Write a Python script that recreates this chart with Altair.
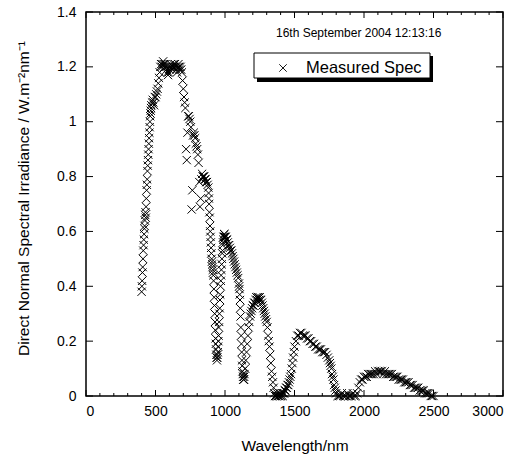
import altair as alt
import pandas as pd

# ---------------- data ----------------
wl_1 = [400, 402, 404, 406, 408, 410, 412, 414, 416, 418, 420, 422, 424, 426, 428, 430, 432, 434,
        436, 438, 440, 442, 444, 446, 448, 450, 452, 454, 456, 458, 460, 462, 464, 466, 468, 470]
val_1 = [0.38, 0.40, 0.42, 0.45, 0.47, 0.50, 0.53, 0.55, 0.57, 0.59, 0.61, 0.62, 0.64, 0.66, 0.67, 0.65, 0.69, 0.72,
         0.75, 0.77, 0.79, 0.82, 0.84, 0.86, 0.88, 0.90, 0.92, 0.94, 0.96, 0.98, 1.00, 1.02, 1.03, 1.04, 1.05, 1.06]

wl_2 = [475, 480, 485, 490, 495, 500, 505, 510, 515, 520, 525, 530, 535, 540, 545, 550, 555, 560, 565, 570,
        575, 580, 585, 590, 595, 600, 605, 610, 615, 620, 625, 630, 635, 640, 645, 650, 655, 660, 665, 670,
        675, 680, 685, 690, 695, 700, 705, 710, 715, 720, 725, 730, 735, 740, 745, 750, 755, 760, 765, 770,
        775, 780, 785, 790, 795, 800, 805, 810, 815, 820, 825, 830, 835, 840, 845, 850, 855, 860, 865, 870,
        875, 880]
val_2 = [1.07, 1.08, 1.07, 1.06, 1.09, 1.09, 1.10, 1.11, 1.12, 1.14, 1.16, 1.18, 1.20, 1.21, 1.20, 1.21, 1.22, 1.21, 1.20, 1.21,
         1.20, 1.19, 1.18, 1.17, 1.18, 1.19, 1.20, 1.21, 1.20, 1.19, 1.20, 1.21, 1.20, 1.21, 1.20, 1.19, 1.18, 1.20, 1.21, 1.20,
         1.19, 1.20, 1.19, 1.18, 1.15, 1.12, 1.09, 1.07, 1.05, 0.90, 0.86, 0.96, 1.02, 1.02, 1.01, 1.00, 0.98, 0.68, 0.75, 0.95,
         0.96, 0.95, 0.94, 0.92, 0.91, 0.90, 0.88, 0.85, 0.78, 0.69, 0.72, 0.79, 0.81, 0.80, 0.80, 0.80, 0.79, 0.79, 0.78, 0.78,
         0.77, 0.76]

wl_3 = [882, 884, 886, 888, 890, 892, 894, 896, 898, 900, 902, 904, 906, 908, 910, 912, 914, 916, 918, 920,
        922, 924, 926, 928, 930, 932, 934, 936, 938, 940, 942, 944, 946, 948, 950, 952, 954, 956, 958, 960,
        962, 964, 966, 968, 970, 972, 974, 976, 978, 980, 982, 984, 986, 988, 990, 992, 994, 996, 998, 1000]
val_3 = [0.74, 0.72, 0.70, 0.67, 0.65, 0.62, 0.60, 0.58, 0.56, 0.54, 0.52, 0.50, 0.49, 0.48, 0.47, 0.46, 0.45, 0.44, 0.42, 0.39,
         0.36, 0.33, 0.30, 0.27, 0.24, 0.21, 0.19, 0.17, 0.15, 0.14, 0.13, 0.14, 0.15, 0.16, 0.18, 0.20, 0.22, 0.25, 0.27, 0.30,
         0.32, 0.35, 0.37, 0.40, 0.42, 0.44, 0.46, 0.48, 0.50, 0.52, 0.53, 0.55, 0.56, 0.57, 0.58, 0.58, 0.59, 0.59, 0.58, 0.58]

wl_4 = [1005, 1010, 1015, 1020, 1025, 1030, 1035, 1040, 1045, 1050, 1055, 1060, 1065, 1070, 1075, 1080, 1085, 1090, 1095, 1100]
val_4 = [0.58, 0.57, 0.57, 0.56, 0.55, 0.55, 0.54, 0.53, 0.53, 0.52, 0.51, 0.50, 0.49, 0.48, 0.47, 0.46, 0.45, 0.44, 0.43, 0.41]

wl_5 = [1102, 1104, 1106, 1108, 1110, 1112, 1114, 1116, 1118, 1120, 1122, 1124, 1126, 1128, 1130, 1132, 1134, 1136, 1138, 1140]
val_5 = [0.40, 0.39, 0.37, 0.35, 0.32, 0.29, 0.25, 0.22, 0.19, 0.16, 0.13, 0.11, 0.09, 0.08, 0.07, 0.06, 0.06, 0.06, 0.07, 0.08]

wl_6 = [1145, 1150, 1155, 1160, 1165, 1170, 1175, 1180, 1185, 1190, 1195, 1200, 1205, 1210, 1215, 1220, 1225, 1230, 1235, 1240,
        1245, 1250, 1255, 1260, 1265, 1270, 1275, 1280, 1285, 1290, 1295, 1300, 1305, 1310, 1315, 1320, 1325, 1330, 1335, 1340,
        1345, 1350, 1355, 1360, 1365, 1370, 1375, 1380, 1385, 1390, 1395, 1400, 1405, 1410, 1415, 1420, 1425, 1430, 1435, 1440,
        1445, 1450, 1455, 1460, 1465, 1470, 1475, 1480, 1485, 1490, 1495, 1500]
val_6 = [0.10, 0.13, 0.16, 0.19, 0.22, 0.25, 0.27, 0.29, 0.30, 0.31, 0.32, 0.33, 0.33, 0.34, 0.34, 0.35, 0.36, 0.35, 0.36, 0.36,
         0.35, 0.36, 0.35, 0.35, 0.34, 0.33, 0.32, 0.31, 0.30, 0.29, 0.28, 0.27, 0.25, 0.22, 0.20, 0.18, 0.15, 0.12, 0.09, 0.07,
         0.05, 0.03, 0.01, 0.00, 0.00, 0.00, 0.01, 0.00, 0.00, 0.00, 0.01, 0.00, 0.00, 0.01, 0.00, 0.01, 0.01, 0.02, 0.02, 0.03,
         0.03, 0.04, 0.04, 0.05, 0.06, 0.07, 0.08, 0.10, 0.12, 0.14, 0.16, 0.18]

wl_7 = [1510, 1520, 1530, 1540, 1550, 1560, 1570, 1580, 1590, 1600, 1610, 1620, 1630, 1640, 1650, 1660, 1670, 1680, 1690, 1700,
        1710, 1720, 1730, 1740, 1750]
val_7 = [0.20, 0.22, 0.22, 0.23, 0.23, 0.22, 0.22, 0.22, 0.21, 0.21, 0.20, 0.20, 0.19, 0.19, 0.18, 0.18, 0.17, 0.17, 0.17, 0.16,
         0.16, 0.16, 0.15, 0.14, 0.13]

wl_8 = [1755, 1760, 1765, 1770, 1775, 1780, 1785, 1790, 1795, 1800]
val_8 = [0.12, 0.11, 0.10, 0.08, 0.07, 0.06, 0.04, 0.03, 0.02, 0.01]

wl_9 = [1810, 1820, 1830, 1840, 1850, 1860, 1870, 1880, 1890, 1900, 1910, 1920, 1930, 1940, 1950, 1960, 1970, 1980, 1990, 2000,
        2010, 2020, 2030, 2040, 2050, 2060, 2070, 2080, 2090, 2100, 2110, 2120, 2130, 2140, 2150, 2160, 2170, 2180, 2190, 2200,
        2210, 2220, 2230, 2240, 2250, 2260, 2270, 2280, 2290, 2300, 2310, 2320, 2330, 2340, 2350, 2360, 2370, 2380, 2390, 2400,
        2410, 2420, 2430, 2440, 2450, 2460, 2470, 2480, 2490, 2500]
val_9 = [0.00, 0.00, 0.00, 0.01, 0.00, 0.00, 0.00, 0.01, 0.00, 0.00, 0.00, 0.01, 0.00, 0.00, 0.01, 0.03, 0.05, 0.06, 0.06, 0.07,
         0.07, 0.07, 0.08, 0.08, 0.08, 0.08, 0.08, 0.09, 0.08, 0.09, 0.09, 0.09, 0.09, 0.08, 0.09, 0.08, 0.08, 0.08, 0.08, 0.08,
         0.07, 0.07, 0.07, 0.07, 0.06, 0.06, 0.06, 0.06, 0.05, 0.05, 0.05, 0.05, 0.04, 0.04, 0.04, 0.03, 0.03, 0.03, 0.03, 0.02,
         0.02, 0.02, 0.02, 0.01, 0.01, 0.01, 0.01, 0.00, 0.00, 0.00]

x_major_ticks = [0, 500, 1000, 1500, 2000, 2500, 3000]
x_minor_ticks = [100, 200, 300, 400, 600, 700, 800, 900, 1100, 1200, 1300, 1400, 1600, 1700, 1800, 1900,
                 2100, 2200, 2300, 2400, 2600, 2700, 2800, 2900]
y_major_ticks = [0, 0.2, 0.4, 0.6, 0.8, 1.0, 1.2, 1.4]

series_name = "Measured Spec"
date_text = "16th September 2004 12:13:16"
x_title = "Wavelength/nm"
y_title = "Direct Normal Spectral Irradiance / W.m\u207b\u00b2nm\u207b\u00b9"

# ---------------- assemble ----------------
wavelength_nm = wl_1 + wl_2 + wl_3 + wl_4 + wl_5 + wl_6 + wl_7 + wl_8 + wl_9
irradiance = val_1 + val_2 + val_3 + val_4 + val_5 + val_6 + val_7 + val_8 + val_9
assert len(wavelength_nm) == len(irradiance)

df = pd.DataFrame({"wavelength": wavelength_nm, "irradiance": irradiance})

W, H = 417, 384
FONT = "Liberation Sans"
X_PATH = "M-1,-1L1,1M-1,1L1,-1"

x_scale = alt.Scale(domain=[0, 3000], nice=False, zero=False)
y_scale = alt.Scale(domain=[0, 1.4], nice=False, zero=False)

x_axis = alt.Axis(values=x_major_ticks, title=x_title, format="d",
                  titleX=W / 2, titleY=54, titleBaseline="alphabetic")
y_axis = alt.Axis(values=y_major_ticks, title=y_title, format="~g",
                  titleX=-58, titleY=186, titleBaseline="alphabetic")

X_ENC = alt.X("wavelength:Q", scale=x_scale, axis=x_axis)
Y_ENC = alt.Y("irradiance:Q", scale=y_scale, axis=y_axis)

points = alt.Chart(df).mark_point(
    shape=X_PATH, filled=False, stroke="#000000", strokeWidth=1, size=68, opacity=1
).encode(x=X_ENC, y=Y_ENC)

# inside tick marks (drawn through the axis scales)
xmaj = pd.DataFrame({"wavelength": x_major_ticks})
xmin = pd.DataFrame({"wavelength": x_minor_ticks})
ymaj = pd.DataFrame({"irradiance": y_major_ticks})

def xrule(data, y0, y1):
    return alt.Chart(data).mark_rule(color="#000", strokeWidth=1).encode(
        x=X_ENC, y=alt.value(y0), y2=alt.value(y1))

def yrule(data, x0, x1):
    return alt.Chart(data).mark_rule(color="#000", strokeWidth=1).encode(
        y=Y_ENC, x=alt.value(x0), x2=alt.value(x1))

ticks = [
    xrule(xmaj, H, H - 6), xrule(xmaj, 0, 6),
    xrule(xmin, H, H - 3), xrule(xmin, 0, 3),
    yrule(ymaj, 0, 7), yrule(ymaj, W, W - 7),
]

# date annotation
date_layer = alt.Chart(pd.DataFrame({"t": [date_text]})).mark_text(
    align="left", baseline="alphabetic", fontSize=12, font=FONT, color="#000"
).encode(text="t:N", x=alt.value(190), y=alt.value(25))

# legend box with drop shadow
leg = pd.DataFrame({"t": [series_name]})
shadow = alt.Chart(leg).mark_rect(color="#000").encode(
    x=alt.value(171), x2=alt.value(347), y=alt.value(44), y2=alt.value(70))
box = alt.Chart(leg).mark_rect(fill="#ffffff", stroke="#000", strokeWidth=1).encode(
    x=alt.value(168), x2=alt.value(344), y=alt.value(41), y2=alt.value(66))
leg_sym = alt.Chart(leg).mark_point(
    shape=X_PATH, filled=False, stroke="#000", strokeWidth=0.9, size=56, opacity=1
).encode(x=alt.value(197), y=alt.value(56))
leg_txt = alt.Chart(leg).mark_text(
    align="left", baseline="alphabetic", fontSize=16.5, font=FONT, color="#000"
).encode(text="t:N", x=alt.value(220), y=alt.value(61))

chart = alt.layer(
    points, *ticks, date_layer, shadow, box, leg_sym, leg_txt
).properties(
    width=W, height=H,
    background="#ffffff",
    autosize=alt.AutoSizeParams(type="none"),
    padding={"left": 86, "top": 12, "right": 23, "bottom": 59},
).configure_view(
    stroke="#000", strokeWidth=1.5, fill="#ffffff"
).configure_axis(
    grid=False, domain=False, ticks=False, tickSize=0,
    labelFont=FONT, labelFontSize=14, labelColor="#000", labelPadding=8,
    titleFont=FONT, titleFontSize=15.5, titleColor="#000", titleFontWeight="normal",
).configure_axisY(
    labelPadding=10,
)

chart.save("out.html", embed_options={"renderer": "svg", "actions": False})
